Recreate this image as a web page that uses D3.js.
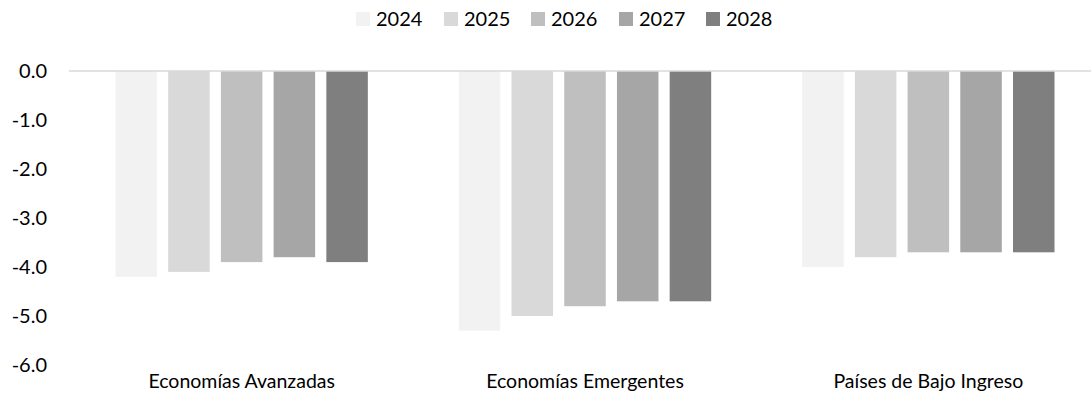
<!DOCTYPE html>
<html>
<head>
<meta charset="utf-8">
<script src="https://cdn.jsdelivr.net/npm/d3@7"></script>
<style>
  html, body { margin: 0; padding: 0; background: #fff; }
  svg { display: block; }
  text { font-family: Lato, "Open Sans", sans-serif; fill: #000; }
</style>
</head>
<body>
<svg id="chart" width="1091" height="410"></svg>
<script>
const categories = ["Economías Avanzadas", "Economías Emergentes", "Países de Bajo Ingreso"];
const years = ["2024", "2025", "2026", "2027", "2028"];
const v2024 = [-4.2, -5.3, -4.0];
const v2025 = [-4.1, -5.0, -3.8];
const v2026 = [-3.9, -4.8, -3.7];
const v2027 = [-3.8, -4.7, -3.7];
const v2028 = [-3.9, -4.7, -3.7];
const seriesValues = [v2024, v2025, v2026, v2027, v2028];
const colors = ["#f2f2f2", "#d9d9d9", "#bfbfbf", "#a6a6a6", "#7f7f7f"];
const yTicks = [0, -1, -2, -3, -4, -5, -6];

const svg = d3.select("#chart");
const plotLeft = 70, plotRight = 1100, plotTop = 71, plotBottom = 365;
const FONT = 'Lato, "Open Sans", sans-serif';

const x0 = d3.scaleBand().domain(categories).range([plotLeft, plotRight]).padding(0);
const bw = x0.bandwidth();
const x1 = d3.scaleBand().domain(years)
  .range([bw * 0.1325, bw * 0.8675]).paddingInner(0.2125).paddingOuter(0);
const y = d3.scaleLinear().domain([-6, 0]).range([plotBottom, plotTop]);

// bars
const groups = svg.append("g").selectAll("g").data(categories).join("g")
  .attr("transform", d => `translate(${x0(d)},0)`);
groups.selectAll("rect")
  .data((c, ci) => years.map((yr, si) => ({ yr, si, v: seriesValues[si][ci] })))
  .join("rect")
  .attr("x", d => x1(d.yr))
  .attr("width", x1.bandwidth())
  .attr("y", d => y(0))
  .attr("height", d => y(d.v) - y(0))
  .attr("fill", d => colors[d.si]);

// zero line
svg.append("line")
  .attr("x1", plotLeft - 1).attr("x2", plotRight)
  .attr("y1", y(0)).attr("y2", y(0))
  .attr("stroke", "#d9d9d9").attr("stroke-width", 1.5);

// y axis labels (plain hyphen minus as in the reference)
const fmt = d => d.toFixed(1).replace("\u2212", "-");
const yAxis = d3.axisLeft(y).tickValues(yTicks).tickFormat(fmt).tickSize(0).tickPadding(0);
const ya = svg.append("g").attr("transform", `translate(47,0)`).call(yAxis);
ya.select(".domain").remove();
ya.selectAll("text").attr("font-family", null).attr("font-size", null)
  .style("font-size", "20px").style("font-family", FONT).style("fill", "#000");

// category labels
const xAxis = d3.axisBottom(x0).tickSize(0).tickPadding(0);
const xa = svg.append("g").attr("transform", `translate(0,381)`).call(xAxis);
xa.select(".domain").remove();
xa.selectAll("text").attr("dy", "0.35em").attr("font-family", null).attr("font-size", null)
  .style("font-size", "19.5px").style("font-family", FONT).style("fill", "#000");

// legend
const legendX = [356, 444, 531, 619, 706];
const leg = svg.append("g").selectAll("g").data(years).join("g")
  .attr("transform", (d, i) => `translate(${legendX[i]},12)`);
leg.append("rect").attr("width", 14).attr("height", 14).attr("fill", (d, i) => colors[i]);
leg.append("text").attr("x", 20).attr("y", 7).attr("dy", "0.35em")
  .style("font-size", "20px").style("font-family", FONT).text(d => d);
</script>
</body>
</html>
